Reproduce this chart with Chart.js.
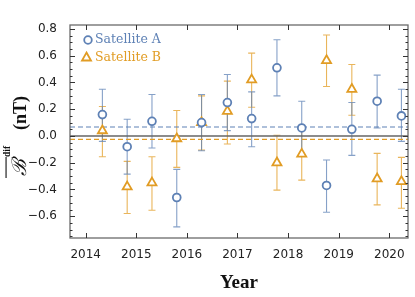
<!DOCTYPE html>
<html>
<head>
<meta charset="utf-8">
<script src="https://cdn.jsdelivr.net/npm/chart.js@4/dist/chart.umd.min.js"></script>
<style>
  html, body { margin: 0; padding: 0; background: #fff; }
  canvas { display: block; }
</style>
</head>
<body>
<canvas id="chart" width="415" height="297"></canvas>
<script>
// Observation epochs (decimal year)
const years = [2014.33, 2014.82, 2015.31, 2015.80, 2016.29, 2016.80, 2017.28,
               2017.78, 2018.27, 2018.76, 2019.26, 2019.76, 2020.24];

// Satellite A: value and error bar ends
const satA     = [0.16, -0.08, 0.11, -0.46, 0.10, 0.25, 0.13, 0.51, 0.06, -0.37, 0.05, 0.26, 0.15];
const satALow  = [-0.04, -0.285, -0.09, -0.68, -0.11, 0.04, -0.08, 0.30, -0.14, -0.57, -0.145, 0.06, -0.04];
const satAHigh = [0.35, 0.125, 0.31, -0.25, 0.31, 0.46, 0.33, 0.72, 0.26, -0.18, 0.25, 0.455, 0.35];

// Satellite B
const satB     = [0.04, -0.38, -0.35, -0.02, 0.10, 0.185, 0.42, -0.20, -0.135, 0.565, 0.35, -0.32, -0.34];
const satBLow  = [-0.155, -0.58, -0.555, -0.235, -0.105, -0.06, 0.215, -0.405, -0.33, 0.37, 0.155, -0.515, -0.54];
const satBHigh = [0.22, -0.19, -0.155, 0.19, 0.30, 0.41, 0.62, 0.005, 0.06, 0.755, 0.535, -0.13, -0.16];

// Mean levels (dashed lines)
const meanA = 0.067;
const meanB = -0.025;

const xTicks = [2014, 2015, 2016, 2017, 2018, 2019, 2020];
const yTicks = [-0.6, -0.4, -0.2, 0.0, 0.2, 0.4, 0.6, 0.8];
const yMinorStep = 0.05;

const X_MIN = 2013.69, X_MAX = 2020.37;
const Y_MIN = -0.763, Y_MAX = 0.83;

const BLUE = "#5e81b5";
const ORANGE = "#e19c24";

function hline(v) {
  return [{ x: X_MIN, y: v }, { x: X_MAX, y: v }];
}

// error bars under the markers
const errorBars = {
  id: "errorBars",
  beforeDatasetsDraw(chart) {
    const { ctx, scales: { x, y } } = chart;
    const drawSet = (lo, hi, color) => {
      ctx.save();
      ctx.strokeStyle = color;
      ctx.lineWidth = 1.1;
      years.forEach((yr, i) => {
        const px = x.getPixelForValue(yr);
        const p1 = y.getPixelForValue(lo[i]);
        const p2 = y.getPixelForValue(hi[i]);
        ctx.beginPath();
        ctx.moveTo(px, p1); ctx.lineTo(px, p2);
        ctx.moveTo(px - 3.5, p1); ctx.lineTo(px + 3.5, p1);
        ctx.moveTo(px - 3.5, p2); ctx.lineTo(px + 3.5, p2);
        ctx.stroke();
      });
      ctx.restore();
    };
    drawSet(satBLow, satBHigh, "rgba(225,156,36,0.75)");
    drawSet(satALow, satAHigh, "rgba(94,129,181,0.75)");
  }
};

// frame with inward ticks, legend and y title
const frame = {
  id: "frame",
  afterDraw(chart) {
    const { ctx, chartArea: a, scales: { x, y } } = chart;
    ctx.save();
    ctx.strokeStyle = "#6b6b6b";
    ctx.lineWidth = 1.3;
    ctx.strokeRect(a.left, a.top, a.right - a.left, a.bottom - a.top);

    ctx.strokeStyle = "#333";
    ctx.lineWidth = 1;
    ctx.beginPath();
    xTicks.forEach((t) => {
      const px = Math.round(x.getPixelForValue(t)) + 0.5;
      ctx.moveTo(px, a.bottom); ctx.lineTo(px, a.bottom - 5);
      ctx.moveTo(px, a.top); ctx.lineTo(px, a.top + 5);
    });
    for (let v = -0.75; v <= Y_MAX + 1e-9; v += yMinorStep) {
      const vv = Math.round(v * 100) / 100;
      if (vv < Y_MIN) continue;
      const major = Math.abs(Math.round(vv * 10) / 10 - vv) < 1e-6 && Math.round(vv * 10) % 2 === 0;
      const len = major ? 5 : 2.5;
      const py = Math.round(y.getPixelForValue(vv)) + 0.5;
      ctx.moveTo(a.left, py); ctx.lineTo(a.left + len, py);
      ctx.moveTo(a.right, py); ctx.lineTo(a.right - len, py);
    }
    ctx.stroke();

    // legend
    ctx.lineWidth = 1.8;
    ctx.strokeStyle = BLUE;
    ctx.beginPath();
    ctx.arc(88, 40, 3.8, 0, Math.PI * 2);
    ctx.stroke();
    ctx.strokeStyle = ORANGE;
    ctx.beginPath();
    ctx.moveTo(86.5, 52.5); ctx.lineTo(91, 60.5); ctx.lineTo(82, 60.5);
    ctx.closePath();
    ctx.stroke();
    ctx.font = "12.5px 'DejaVu Serif'";
    ctx.textBaseline = "middle";
    ctx.textAlign = "left";
    ctx.fillStyle = BLUE;
    ctx.fillText("Satellite A", 95, 40);
    ctx.fillStyle = ORANGE;
    ctx.fillText("Satellite B", 95, 57.5);

    // x title
    ctx.fillStyle = "#111";
    ctx.font = "bold 19px 'Liberation Serif'";
    ctx.textAlign = "center";
    ctx.textBaseline = "alphabetic";
    ctx.fillText("Year", (a.left + a.right) / 2, 288);

    // y title: overline B, superscript dif, (nT)
    ctx.translate(26, 178);
    ctx.rotate(-Math.PI / 2);
    ctx.textAlign = "left";
    ctx.font = "italic 20px 'DejaVu Serif'";
    ctx.fillText("ℬ", 2, 0);
    const bw = ctx.measureText("ℬ").width;
    ctx.fillRect(0, -20.5, bw + 4, 1.1);
    ctx.font = "bold 9.5px 'Liberation Serif'";
    ctx.fillText("dif", bw + 4, -16);
    ctx.font = "bold 18px 'Liberation Serif'";
    ctx.fillText("(nT)", 48, 0);
    ctx.restore();
  }
};

const ctx = document.getElementById("chart");
Chart.defaults.font.family = "'DejaVu Sans'";
Chart.defaults.font.size = 12;
Chart.defaults.color = "#222";

new Chart(ctx, {
  type: "scatter",
  data: {
    datasets: [
      {
        label: "Satellite A",
        data: years.map((yr, i) => ({ x: yr, y: satA[i] })),
        pointStyle: "circle",
        pointRadius: 3.9,
        borderWidth: 1.8,
        borderColor: BLUE,
        backgroundColor: "#fff",
        order: 0,
      },
      {
        label: "Satellite B",
        data: years.map((yr, i) => ({ x: yr, y: satB[i] })),
        pointStyle: "triangle",
        pointRadius: 5.2,
        borderWidth: 1.8,
        borderColor: ORANGE,
        backgroundColor: "#fff",
        order: 0,
      },
      {
        type: "line",
        data: hline(0),
        borderColor: "#666",
        borderWidth: 1.4,
        pointRadius: 0,
        order: 3,
      },
      {
        type: "line",
        data: hline(meanA),
        borderColor: BLUE,
        borderWidth: 1.2,
        borderDash: [5, 3],
        pointRadius: 0,
        order: 2,
      },
      {
        type: "line",
        data: hline(meanB),
        borderColor: ORANGE,
        borderWidth: 1.2,
        borderDash: [5, 3],
        pointRadius: 0,
        order: 2,
      },
    ],
  },
  options: {
    responsive: false,
    animation: false,
    devicePixelRatio: 1,
    layout: { padding: { left: 0, right: 1, top: 25, bottom: 0 } },
    plugins: {
      legend: { display: false },
      tooltip: { enabled: false },
    },
    scales: {
      x: {
        type: "linear",
        min: X_MIN,
        max: X_MAX,
        grid: { display: false },
        border: { display: false },
        afterBuildTicks: (s) => { s.ticks = xTicks.map((v) => ({ value: v })); },
        afterFit: (s) => { s.height = 59; },
        ticks: { padding: 2, callback: (v) => String(v) },
      },
      y: {
        type: "linear",
        min: Y_MIN,
        max: Y_MAX,
        grid: { display: false },
        border: { display: false },
        afterBuildTicks: (s) => { s.ticks = yTicks.map((v) => ({ value: v })); },
        afterFit: (s) => { s.width = 70; },
        ticks: {
          padding: 5,
          callback: (v) => (v < -1e-9 ? "\u2212" : "") + Math.abs(v).toFixed(1),
        },
      },
    },
  },
  plugins: [errorBars, frame],
});
</script>
</body>
</html>
